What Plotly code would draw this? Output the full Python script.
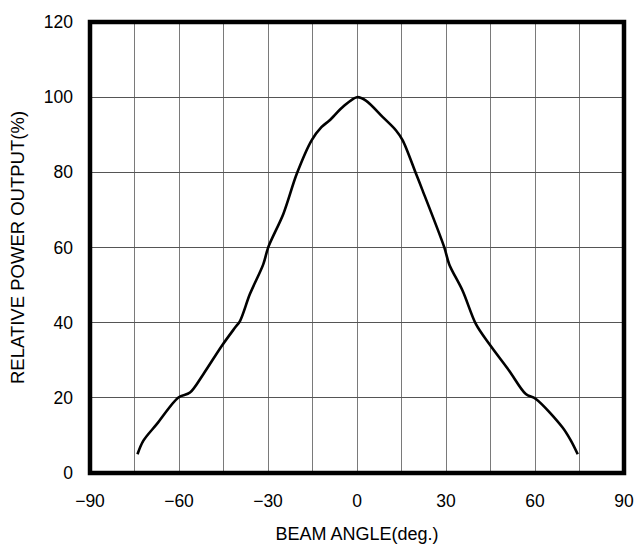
import plotly.graph_objects as go

angle = [-74.0, -72.0, -67.5, -60.2, -56.3, -51.8, -45.6, -41.1, -39.4, -36.1, -31.6,
         -29.9, -24.8, -20.3, -15.3, -12.0, -9.3, -4.8, 0.0, 3.0, 8.7, 13.1, 15.4,
         19.9, 22.1, 29.4, 31.1, 35.6, 40.1, 44.6, 51.3, 56.9, 60.3, 69.3, 72.1, 74.4]
power = [5.0, 8.6, 13.0, 20.1, 21.4, 26.3, 33.8, 38.7, 40.5, 47.6, 55.5,
         60.1, 69.0, 79.6, 88.5, 92.0, 93.8, 97.4, 100.0, 99.1, 94.7, 91.2, 88.5,
         79.6, 75.2, 60.1, 55.5, 48.5, 39.6, 34.3, 27.2, 21.0, 19.7, 12.1, 8.6, 5.0]

x_ticks = [-90, -60, -30, 0, 30, 60, 90]
y_ticks = [0, 20, 40, 60, 80, 100, 120]

fig = go.Figure()
fig.add_trace(go.Scatter(x=angle, y=power, mode="lines",
                         line=dict(color="black", width=2.6, shape="spline", smoothing=0.9),
                         hoverinfo="skip"))

font = dict(family="Liberation Sans, Arial, sans-serif", size=17.5, color="black")
fig.update_layout(
    width=636, height=544,
    margin=dict(l=90, r=12, t=22, b=71),
    paper_bgcolor="white", plot_bgcolor="white",
    showlegend=False,
    font=font,
    xaxis=dict(range=[-90, 90], tickvals=x_ticks, ticktext=[str(v).replace("-", "\u2212") for v in x_ticks],
               showgrid=True, gridcolor="#7a7a7a", gridwidth=1,
               minor=dict(dtick=15, tick0=0, showgrid=True, gridcolor="#7a7a7a", gridwidth=1),
               zeroline=False, showline=False, ticks="", ticklabelstandoff=15, automargin=False,
               ticklabeloverflow="allow",
               title=dict(text="BEAM ANGLE(deg.)", standoff=20, font=dict(size=18))),
    yaxis=dict(range=[0, 120], tickvals=y_ticks,
               showgrid=True, gridcolor="#555", gridwidth=1,
               zeroline=False, showline=False, ticks="", ticklabelstandoff=16, automargin=False,
               title=dict(text="RELATIVE POWER OUTPUT(%)", standoff=14, font=dict(size=18.5))),
    shapes=[dict(type="rect", xref="paper", yref="paper", x0=0, y0=0, x1=1, y1=1,
                 line=dict(color="black", width=4.5), layer="above")],
)

fig.write_html("out.html", config={"displayModeBar": False, "staticPlot": True},
               post_script="document.body.style.margin='0';document.body.style.overflow='hidden';")
